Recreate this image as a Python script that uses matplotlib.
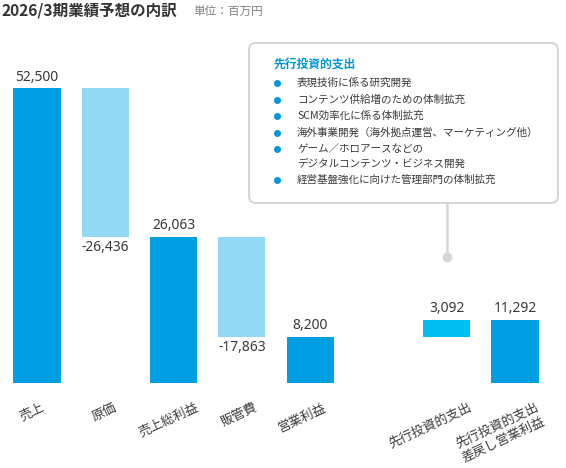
import matplotlib
matplotlib.use("Agg")
import matplotlib.pyplot as plt
from matplotlib.patches import FancyBboxPatch
from matplotlib.transforms import blended_transform_factory

plt.rcParams['font.family'] = ['Noto Sans CJK JP', 'DejaVu Sans']

# ---- data ----
categories = ["売上", "原価", "売上総利益", "販管費", "営業利益", "先行投資的支出", "先行投資的支出\n差戻し営業利益"]
values = [52500, -26436, 26063, -17863, 8200, 3092, 11292]
kinds = ["total", "delta", "total", "delta", "total", "delta", "total"]
value_labels = ["52,500", "-26,436", "26,063", "-17,863", "8,200", "3,092", "11,292"]
slots = [0, 1, 2, 3, 4, 6, 7]

callout_title = "先行投資的支出"
callout_items = [
    "表現技術に係る研究開発",
    "コンテンツ供給増のための体制拡充",
    "SCM効率化に係る体制拡充",
    "海外事業開発（海外拠点運営、マーケティング他）",
    "ゲーム／ホロアースなどの\nデジタルコンテンツ・ビジネス開発",
    "経営基盤強化に向けた管理部門の体制拡充",
]

title = "2026/3期業績予想の内訳"
unit = "単位：百万円"

# ---- style ----
C_TOTAL = "#009FE3"
C_NEG = "#92D9F3"
C_POS = "#00C0F3"
C_TEXT = "#3a3a3a"
C_BLUE = "#0096DA"
C_GREY = "#D6D6D6"
label_dx_pt = [-3.6, -0.7, -3.6, -2.2, -5.8, -12.2, -10.8]

W, H, DPI = 566, 468, 100
fig = plt.figure(figsize=(W / DPI, H / DPI), dpi=DPI)
fig.patch.set_facecolor("white")

slot_px = 68.3
x0_px = 37 - 0.5 * slot_px
x1_px = 515 + 0.5 * slot_px
base_px = 383
ymax = 60000
h_px = 295 / 52500 * ymax
ax = fig.add_axes([x0_px / W, (H - base_px) / H, (x1_px - x0_px) / W, h_px / H])
ax.set_xlim(-0.5, 7.5)
ax.set_ylim(0, ymax)
ax.axis("off")

num_font = ["Noto Sans", "DejaVu Sans"]
running = 0
for cat, v, k, lab, s, dx in zip(categories, values, kinds, value_labels, slots, label_dx_pt):
    if k == "total":
        bottom, height, color = 0, v, C_TOTAL
        running = v
    else:
        if v < 0:
            bottom, height, color = running + v, -v, C_NEG
        else:
            bottom, height, color = running, v, C_POS
        running = running + v
    ax.bar(s, height, bottom=bottom, width=0.69, color=color, linewidth=0)
    if v >= 0:
        ax.annotate(lab, (s, bottom + height), xytext=(0, 2.5), textcoords="offset points",
                    ha="center", va="bottom", fontsize=10, color=C_TEXT, family=num_font,
                    fontweight="medium")
    else:
        ax.annotate(lab, (s, bottom), xytext=(0, -2.5), textcoords="offset points",
                    ha="center", va="top", fontsize=10, color=C_TEXT, family=num_font,
                    fontweight="medium")
    ax.annotate(cat, (s, 0), xytext=(dx, -13), textcoords="offset points",
                ha="center", va="top", rotation=25, fontsize=9.3, color=C_TEXT,
                linespacing=1.15, annotation_clip=False)

# ---- title ----
fig.text(2 / W, 1 - 11 / H, title, ha="left", va="center", fontsize=11.2, color="#333333", fontweight="bold")
fig.text(193 / W, 1 - 11.5 / H, unit, ha="left", va="center", fontsize=8.4, color="#808080")

# ---- callout box (inches) ----
tin = fig.dpi_scale_trans
bx0, by_top, bx1, by_bot = 249, 43, 558, 203
box = FancyBboxPatch(((bx0) / DPI, (H - by_bot) / DPI), (bx1 - bx0) / DPI, (by_bot - by_top) / DPI,
                     boxstyle="round,pad=0,rounding_size=0.07", transform=tin,
                     facecolor="white", edgecolor=C_GREY, linewidth=1.5)
fig.add_artist(box)

fig.text(274 / DPI, (H - 65) / DPI, callout_title, transform=tin, ha="left", va="center",
         fontsize=8.5, fontweight="bold", color=C_BLUE)
y = 83
for item in callout_items:
    fig.add_artist(plt.Line2D([277 / DPI], [(H - y) / DPI], transform=tin, marker="o",
                              markersize=4, color=C_BLUE, linestyle="none"))
    for line in item.split("\n"):
        fig.text(297 / DPI, (H - y) / DPI, line, transform=tin, ha="left", va="center",
                 fontsize=7.6, color=C_TEXT)
        y += 14.5
    y += 2

# connector line to the advance-investment bar
bt = blended_transform_factory(ax.transData, tin)
ax.plot([slots[5], slots[5]], [(H - by_bot) / DPI, (H - 257) / DPI], transform=bt,
        color=C_GREY, linewidth=1.8, clip_on=False, solid_capstyle="butt")
ax.plot([slots[5]], [(H - 257) / DPI], transform=bt, marker="o", markersize=6,
        color=C_GREY, clip_on=False)

fig.savefig("out.png", dpi=DPI, facecolor="white")
